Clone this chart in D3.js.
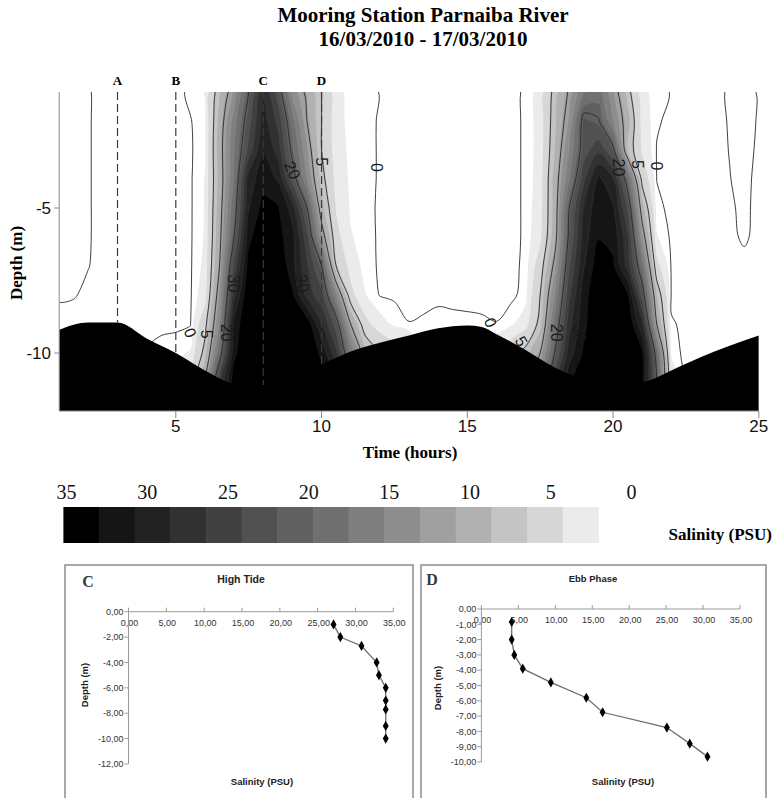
<!DOCTYPE html>
<html>
<head>
<meta charset="utf-8">
<script src="https://cdn.jsdelivr.net/npm/d3@7"></script>
<style>
  html, body { margin: 0; padding: 0; background: #fff; }
  svg { display: block; }
</style>
</head>
<body>
<svg id="chart" width="774" height="798"></svg>
<script>
// ---------------- Data ----------------
// Salinity field (PSU): one row per depth, one column per half hour
const times = [1, 1.5, 2, 2.5, 3, 3.5, 4, 4.5, 5, 5.5, 6, 6.5, 7, 7.5, 8, 8.5, 9, 9.5, 10, 10.5,
  11, 11.5, 12, 12.5, 13, 13.5, 14, 14.5, 15, 15.5, 16, 16.5, 17, 17.5, 18, 18.5, 19, 19.5, 20, 20.5,
  21, 21.5, 22, 22.5, 23, 23.5, 24, 24.5, 25];
const depths = [-1, -2, -3, -4, -5, -6, -7, -8, -9, -10, -11, -12];
const salinity = [
  [0.2, 0.2, 0.05, -0.2, -0.2, -0.2, -0.2, -0.2,
   -0.3, 0.2, 0.75, 6.8, 12.1, 20, 28, 22, 13, 9.2, 5, 1.0, 0.4, 0.2, -0.02, -0.2,
   -0.2, -0.2, -0.2, -0.2, -0.2, -0.2, -0.2,
   -0.2, 0.1, 1.2, 6, 10.5, 16, 17.5, 12, 6, 1.0, 0.3, -0.05, -0.2,
   -0.2, -0.2, 0.1, 0.2, -0.05],
  [0.2, 0.2, 0.05, -0.2, -0.2, -0.2, -0.2, -0.2,
   -0.2, -0.05, 0.5, 8, 15, 22, 29, 25, 17, 10, 5, 1.1, 0.4, 0.15, -0.05, -0.2,
   -0.2, -0.2, -0.2, -0.2, -0.2, -0.2, -0.2,
   -0.2, 0.1, 1.2, 6.5, 12, 21.5, 20.3, 14, 8, 1.5, 0.1, -0.2, -0.2,
   -0.2, -0.2, 0.05, 0.2, -0.05],
  [0.2, 0.2, 0.05, -0.2, -0.2, -0.2, -0.2, -0.2,
   -0.2, -0.1, 0.5, 8.5, 16, 24, 30.2, 27, 19, 12, 5, 1.3, 0.45, 0.15, -0.05, -0.2,
   -0.2, -0.2, -0.2, -0.2, -0.2, -0.2, -0.2,
   -0.2, 0.1, 1.2, 7, 14, 22, 25, 21, 7, 2, -0.05, -0.2, -0.2,
   -0.2, -0.2, 0.02, 0.2, -0.1],
  [0.2, 0.2, 0.05, -0.2, -0.2, -0.2, -0.2, -0.2,
   -0.2, -0.1, 0.75, 8, 16.5, 29, 31.5, 30, 22, 14, 6, 1.6, 0.5, 0.15, -0.05, -0.2,
   -0.2, -0.2, -0.2, -0.2, -0.2, -0.2, -0.2,
   -0.2, 0.1, 1.3, 8, 16, 25, 30.8, 28, 18, 4, -0.02, -0.2, -0.2,
   -0.2, -0.2, -0.02, 0.2, -0.2],
  [0.2, 0.2, 0.05, -0.2, -0.2, -0.2, -0.2, -0.2,
   -0.2, -0.1, 0.75, 8.5, 18, 30, 33.5, 32.9, 29, 20, 8, 2.2, 0.55, 0.2, -0.1, -0.2,
   -0.2, -0.2, -0.2, -0.2, -0.2, -0.2, -0.2,
   -0.2, 0.1, 1.5, 8, 20, 28, 32, 30.5, 23, 8, 0.2, -0.2, -0.2,
   -0.2, -0.2, -0.1, 0.15, -0.2],
  [0.2, 0.2, 0.05, -0.2, -0.2, -0.2, -0.2, -0.2,
   -0.2, -0.1, 0.8, 9, 20, 32, 34.5, 33.5, 31, 24, 12, 3, 0.8, 0.25, -0.1, -0.2,
   -0.2, -0.2, -0.2, -0.2, -0.2, -0.2, -0.2,
   -0.2, 0.1, 1.8, 8.5, 21, 29, 32.5, 32, 26, 12, 0.8, -0.15, -0.2,
   -0.2, -0.2, -0.15, 0.1, -0.2],
  [0.2, 0.2, 0.02, -0.2, -0.2, -0.2, -0.2, -0.2,
   -0.2, -0.1, 1.0, 10, 24, 33.5, 35, 35, 31, 26, 20, 5, 1.5, 0.3, -0.1, -0.2,
   -0.2, -0.2, -0.2, -0.2, -0.2, -0.2, -0.2,
   -0.2, 0.15, 3.5, 11, 23, 30, 34, 33, 27, 17, 3, -0.1, -0.2,
   -0.2, -0.2, -0.2, -0.2, -0.2],
  [0.1, 0.05, -0.15, -0.2, -0.2, -0.2, -0.2, -0.2,
   -0.2, -0.1, 1.5, 12, 27, 35, 35, 35, 33, 27, 24, 14, 3, 0.75, -0.05, -0.15,
   -0.2, -0.2, -0.2, -0.2, -0.2, -0.2, -0.2,
   -0.2, 0.3, 5, 14, 25, 31.5, 35, 35, 33, 22, 7, -0.1, -0.2,
   -0.2, -0.2, -0.2, -0.2, -0.2],
  [-0.3, -0.3, -0.3, -0.3, -0.3, -0.3, -0.2, -0.2,
   -0.2, -0.05, 4, 14, 31, 35, 35, 35, 35, 34, 28, 22, 10, 3, 1.2, 0.5,
   0.02, 0.1, 0.3, 0.2, 0.15, 0.1, 0.02,
   0.5, 1.5, 6, 17, 27, 32, 35, 35, 35, 28, 10, 0.05, -0.1,
   -0.2, -0.2, -0.2, -0.2, -0.2],
  [-0.3, -0.3, -0.3, -0.3, -0.3, -0.2, 0.05, 0.3,
   0.5, 0.8, 6, 18, 32, 35, 35, 35, 35, 35, 32, 26, 16, 8, 5, 3.5,
   3, 0.3, 0.3, 0.3, 0.3, 1.5, 2,
   4, 6, 10, 20, 29, 33, 35, 35, 35, 33, 18, 0.5, -0.3,
   -0.3, -0.3, -0.3, -0.3, -0.3],
  [-0.3, -0.3, -0.3, -0.3, -0.3, -0.3, 0.3, 0.5,
   1, 3, 10, 25, 34, 35, 35, 35, 35, 35, 34, 30, 22, 12, 8, 5,
   4, 2, 2, 2, 2, 3, 4,
   6, 8, 14, 25, 32, 35, 35, 35, 35, 33, 20, 2, -0.3,
   -0.3, -0.3, -0.3, -0.3, -0.3],
  [-0.3, -0.3, -0.3, -0.3, -0.3, -0.3, 0.3, 0.5,
   1, 3, 10, 25, 34, 35, 35, 35, 35, 35, 34, 30, 22, 12, 8, 5,
   4, 2, 2, 2, 2, 3, 4,
   6, 8, 14, 25, 32, 35, 35, 35, 35, 33, 20, 2, -0.3,
   -0.3, -0.3, -0.3, -0.3, -0.3]
];

// Shaded salinity classes and drawn isohalines
const fillLevels = [0.7, 2.33, 4.67, 7, 9.33, 11.67, 14, 16.33, 18.67, 21, 23.33, 25.67, 28, 30.33, 32.67];
const lineLevels = [0, 5, 10, 20, 30];

// Colour scale swatches, from 35 PSU (left) to 0 PSU (right)
const colorbarGrays = ["#000000", "#151515", "#222222", "#313131", "#414141", "#515151", "#606060",
  "#707070", "#7f7f7f", "#8e8e8e", "#a0a0a0", "#b1b1b1", "#c4c4c4", "#d7d7d7", "#ebebeb"];
const colorbarLabels = [35, 30, 25, 20, 15, 10, 5, 0];

// River bed profile
const bedTime = [1, 2, 3, 4, 5, 6, 7, 8, 9, 10, 11, 12, 13, 14, 15, 15.5, 16, 17, 18, 19, 20, 21, 22, 23, 24, 25];
const bedDepth = [-9.2, -8.95, -8.95, -9.5, -10.0, -10.6, -11.05, -11.1, -10.9, -10.4, -9.95, -9.65, -9.4,
  -9.15, -9.05, -9.1, -9.35, -9.9, -10.5, -10.9, -11.05, -11.0, -10.6, -10.15, -9.75, -9.4];

// Profile stations
const stationNames = ["A", "B", "C", "D"];
const stationTimes = [3, 5, 8, 10];

// Isohaline labels: text, time, depth, rotation
const isoText = ["0", "5", "20", "30", "30", "20", "5", "0", "0", "5", "20", "30", "20", "5", "0"];
const isoTime = [5.5, 6.05, 6.75, 7.0, 9.35, 9.0, 10.0, 11.9, 15.8, 16.85, 18.05, 18.85, 20.2, 20.85, 21.5];
const isoDepth = [-9.3, -9.35, -9.3, -7.6, -7.6, -3.7, -3.4, -3.6, -8.95, -9.6, -9.3, -9.3, -3.6, -3.5, -3.55];
const isoAngle = [70, 90, 90, 90, 80, 65, 90, 90, 70, 60, 90, 90, 90, 90, 90];

// Profile C: high tide
const highTideSal = [27.1, 28.0, 30.8, 32.8, 33.1, 34.0, 34.0, 34.0, 34.0, 34.0];
const highTideDepth = [-1.0, -2.0, -2.7, -4.0, -5.0, -6.0, -7.0, -7.7, -9.0, -10.0];
// Profile D: ebb phase
const ebbSal = [4.1, 4.1, 4.45, 5.6, 9.4, 14.2, 16.4, 25.1, 28.2, 30.6];
const ebbDepth = [-0.85, -2.0, -3.0, -3.9, -4.8, -5.8, -6.75, -7.75, -8.8, -9.65];

// ---------------- Drawing ----------------
const W = 774, H = 798;
const serif = "'Liberation Serif','Times New Roman',Times,serif";
const sans = "'Liberation Sans',Arial,Helvetica,sans-serif";
const svg = d3.select("#chart");
svg.append("rect").attr("width", W).attr("height", H).attr("fill", "#fff");

// Title
svg.append("text").attr("x", 423).attr("y", 22).attr("text-anchor", "middle")
  .attr("font-family", serif).attr("font-weight", "bold").attr("font-size", 21)
  .text("Mooring Station Parnaiba River");
svg.append("text").attr("x", 423).attr("y", 46).attr("text-anchor", "middle")
  .attr("font-family", serif).attr("font-weight", "bold").attr("font-size", 21)
  .text("16/03/2010 - 17/03/2010");

// Main section scales
const x = d3.scaleLinear().domain([1, 25]).range([59.2, 758.8]);
const y = d3.scaleLinear().domain([-1, -12]).range([92, 411]);

const defs = svg.append("defs");
defs.append("clipPath").attr("id", "plotClip").append("rect")
  .attr("x", x(1)).attr("y", y(-1))
  .attr("width", x(25) - x(1)).attr("height", y(-12) - y(-1));

const plot = svg.append("g").attr("clip-path", "url(#plotClip)");

const nx = times.length, ny = depths.length;
const dt = times[1] - times[0], dd = depths[0] - depths[1];
const values = [].concat(...salinity);
const toPx = p => [x(times[0] + (p[0] - 0.5) * dt), y(depths[0] - (p[1] - 0.5) * dd)];
const ringLine = d3.line().curve(d3.curveCatmullRomClosed.alpha(0.5));

// One smoothed closed path per contour ring, in pixel space
function ringPaths(mp) {
  const out = [];
  mp.coordinates.forEach(poly => poly.forEach(ring => {
    const pts = [];
    ring.forEach(p => {
      const q = toPx(p);
      if (!isFinite(q[0]) || !isFinite(q[1])) return;
      const last = pts[pts.length - 1];
      if (!last || Math.hypot(last[0] - q[0], last[1] - q[1]) > 0.3) pts.push(q);
    });
    if (pts.length > 1) {
      const f = pts[0], l = pts[pts.length - 1];
      if (Math.hypot(f[0] - l[0], f[1] - l[1]) < 0.3) pts.pop();
    }
    if (pts.length > 2) {
      const d = ringLine(pts);
      if (d && d.indexOf("NaN") < 0) out.push(d);
    }
  }));
  return out;
}

// Filled salinity classes
const fills = d3.contours().size([nx, ny]).thresholds(fillLevels)(values);
fills.forEach((c, i) => {
  plot.append("path")
    .attr("d", ringPaths(c).join(""))
    .attr("fill", colorbarGrays[colorbarGrays.length - 1 - i])
    .attr("fill-rule", "evenodd")
    .attr("stroke", "none");
});

// Isohalines, drawn ring by ring
const isolines = d3.contours().size([nx, ny]).thresholds(lineLevels)(values);
isolines.forEach(c => {
  ringPaths(c).forEach(d => {
    plot.append("path").attr("d", d)
      .attr("fill", "none")
      .attr("stroke", "#2a2a2a")
      .attr("stroke-width", 0.9);
  });
});

// River bed
const bedArea = d3.area()
  .x((d, i) => x(bedTime[i]))
  .y0(y(-12))
  .y1((d, i) => y(bedDepth[i]))
  .curve(d3.curveMonotoneX);
plot.append("path").attr("d", bedArea(bedTime)).attr("fill", "#000");

// Isohaline labels
plot.selectAll("text.isolabel").data(isoText).join("text")
  .attr("class", "isolabel")
  .attr("transform", (d, i) => `translate(${x(isoTime[i])},${y(isoDepth[i])}) rotate(${isoAngle[i]})`)
  .attr("text-anchor", "middle").attr("dy", "0.35em")
  .attr("font-family", sans).attr("font-size", 16).attr("fill", "#1a1a1a")
  .text(d => d);

// Profile stations
const bedAt = d3.scaleLinear().domain(bedTime).range(bedDepth);
stationTimes.forEach((t, i) => {
  svg.append("line")
    .attr("x1", x(t)).attr("x2", x(t))
    .attr("y1", y(-1)).attr("y2", y(bedAt(t)))
    .attr("stroke", "#3a3a3a").attr("stroke-width", 1.2)
    .attr("stroke-dasharray", "8,4");
  svg.append("text").attr("x", x(t)).attr("y", 85).attr("text-anchor", "middle")
    .attr("font-family", serif).attr("font-weight", "bold").attr("font-size", 13)
    .text(stationNames[i]);
});

// Axes of the section
const axisColor = "#8a8a8a";
svg.append("line").attr("x1", x(1)).attr("x2", x(1)).attr("y1", y(-1)).attr("y2", y(-12))
  .attr("stroke", axisColor).attr("stroke-width", 1);
svg.append("line").attr("x1", x(1)).attr("x2", x(25)).attr("y1", y(-12)).attr("y2", y(-12))
  .attr("stroke", axisColor).attr("stroke-width", 1);

const xTicks = [5, 10, 15, 20, 25];
xTicks.forEach(t => {
  svg.append("line").attr("x1", x(t)).attr("x2", x(t)).attr("y1", y(-12)).attr("y2", y(-12) + 7)
    .attr("stroke", axisColor);
  svg.append("text").attr("x", x(t)).attr("y", 432).attr("text-anchor", "middle")
    .attr("font-family", sans).attr("font-size", 17).attr("fill", "#111").text(t);
});
const yTicks = [-5, -10];
yTicks.forEach(v => {
  svg.append("line").attr("x1", x(1) - 5).attr("x2", x(1)).attr("y1", y(v)).attr("y2", y(v))
    .attr("stroke", axisColor);
  svg.append("text").attr("x", 51).attr("y", y(v) + 6).attr("text-anchor", "end")
    .attr("font-family", sans).attr("font-size", 17).attr("fill", "#111").text("-" + Math.abs(v));
});
svg.append("text").attr("x", 410).attr("y", 458).attr("text-anchor", "middle")
  .attr("font-family", serif).attr("font-weight", "bold").attr("font-size", 17)
  .text("Time (hours)");
svg.append("text").attr("transform", "translate(22,263) rotate(-90)").attr("text-anchor", "middle")
  .attr("font-family", serif).attr("font-weight", "bold").attr("font-size", 17)
  .text("Depth (m)");

// Colour scale
const cbX = d3.scaleBand().domain(d3.range(colorbarGrays.length)).range([63.4, 598.4]).padding(0);
svg.selectAll("rect.swatch").data(colorbarGrays).join("rect")
  .attr("class", "swatch")
  .attr("x", (d, i) => cbX(i)).attr("y", 507)
  .attr("width", cbX.bandwidth() + 0.5).attr("height", 36)
  .attr("fill", d => d);
const cbLab = d3.scaleLinear().domain([35, 0]).range([66.5, 631.5]);
svg.selectAll("text.cblabel").data(colorbarLabels).join("text")
  .attr("class", "cblabel")
  .attr("x", d => cbLab(d)).attr("y", 499).attr("text-anchor", "middle")
  .attr("font-family", serif).attr("font-size", 20).attr("fill", "#111")
  .text(d => d);
svg.append("text").attr("x", 772).attr("y", 540).attr("text-anchor", "end")
  .attr("font-family", serif).attr("font-weight", "bold").attr("font-size", 17)
  .text("Salinity (PSU)");

// ---------------- Profile panels ----------------
const comma = d3.formatLocale({ decimal: ",", thousands: ".", grouping: [3], currency: ["", ""], minus: "-" }).format(".2f");

function drawPanel(p) {
  const g = svg.append("g");
  g.append("path")
    .attr("d", `M${p.box[0]},${H + 5}V${p.box[1]}H${p.box[2]}V${H + 5}`)
    .attr("fill", "none").attr("stroke", "#8c8c8c").attr("stroke-width", 1.5);
  g.append("text").attr("x", p.letterPos[0]).attr("y", p.letterPos[1]).attr("text-anchor", "middle")
    .attr("font-family", serif).attr("font-weight", "bold").attr("font-size", 16).attr("fill", "#3a3a3a")
    .text(p.letter);
  g.append("text").attr("x", p.titlePos[0]).attr("y", p.titlePos[1]).attr("text-anchor", "middle")
    .attr("font-family", sans).attr("font-weight", "bold").attr("font-size", p.titleSize).attr("fill", "#222")
    .text(p.title);

  const sx = d3.scaleLinear().domain([0, 35]).range(p.xRange);
  const sy = d3.scaleLinear().domain([p.yMin, 0]).range(p.yRange);
  const tickCol = "#9a9a9a";

  // horizontal salinity axis at the surface
  g.append("line").attr("x1", sx(0)).attr("x2", sx(35)).attr("y1", sy(0)).attr("y2", sy(0))
    .attr("stroke", tickCol);
  d3.range(0, 36, 5).forEach(v => {
    g.append("line").attr("x1", sx(v)).attr("x2", sx(v)).attr("y1", sy(0) - 4).attr("y2", sy(0))
      .attr("stroke", tickCol);
    g.append("text").attr("x", sx(v) + 1).attr("y", sy(0) + 14).attr("text-anchor", "middle")
      .attr("font-family", sans).attr("font-size", 9).attr("fill", "#333")
      .text(comma(v));
  });
  // vertical depth axis
  g.append("line").attr("x1", sx(0)).attr("x2", sx(0)).attr("y1", sy(0)).attr("y2", sy(p.yMin))
    .attr("stroke", tickCol);
  d3.range(0, p.yMin - 0.001, -p.yStep).forEach(v => {
    g.append("line").attr("x1", sx(0) - 4).attr("x2", sx(0)).attr("y1", sy(v)).attr("y2", sy(v))
      .attr("stroke", tickCol);
    g.append("text").attr("x", sx(0) - 5).attr("y", sy(v) + 3.2).attr("text-anchor", "end")
      .attr("font-family", sans).attr("font-size", 9).attr("fill", "#333")
      .text(comma(v));
  });
  g.append("text").attr("transform", `translate(${p.yTitleX},${p.yTitleY}) rotate(-90)`)
    .attr("text-anchor", "middle")
    .attr("font-family", sans).attr("font-weight", "bold").attr("font-size", 9.5).attr("fill", "#222")
    .text("Depth (m)");
  g.append("text").attr("x", p.xTitleX).attr("y", 785).attr("text-anchor", "middle")
    .attr("font-family", sans).attr("font-weight", "bold").attr("font-size", 9.5).attr("fill", "#222")
    .text("Salinity (PSU)");

  const line = d3.line().x((d, i) => sx(p.sal[i])).y((d, i) => sy(p.dep[i]));
  g.append("path").attr("d", line(p.sal)).attr("fill", "none")
    .attr("stroke", "#6e6e6e").attr("stroke-width", 1.3);
  g.selectAll("path.mk").data(p.sal).join("path")
    .attr("class", "mk")
    .attr("transform", (d, i) => `translate(${sx(p.sal[i])},${sy(p.dep[i])})`)
    .attr("d", d3.symbol(d3.symbolDiamond, 30))
    .attr("fill", "#000");
}

drawPanel({
  box: [65, 565, 413], letter: "C", letterPos: [88, 587],
  title: "High Tide", titlePos: [241, 583], titleSize: 10.5,
  xRange: [128.5, 393.3], yMin: -12, yStep: 2, yRange: [764, 611.7],
  yTitleX: 88, yTitleY: 685, xTitleX: 262,
  sal: highTideSal, dep: highTideDepth
});
drawPanel({
  box: [421, 565, 766], letter: "D", letterPos: [432, 585],
  title: "Ebb Phase", titlePos: [593, 582], titleSize: 9.5,
  xRange: [481.4, 740.0], yMin: -10, yStep: 1, yRange: [762, 609],
  yTitleX: 441, yTitleY: 688, xTitleX: 623,
  sal: ebbSal, dep: ebbDepth
});
</script>
</body>
</html>
